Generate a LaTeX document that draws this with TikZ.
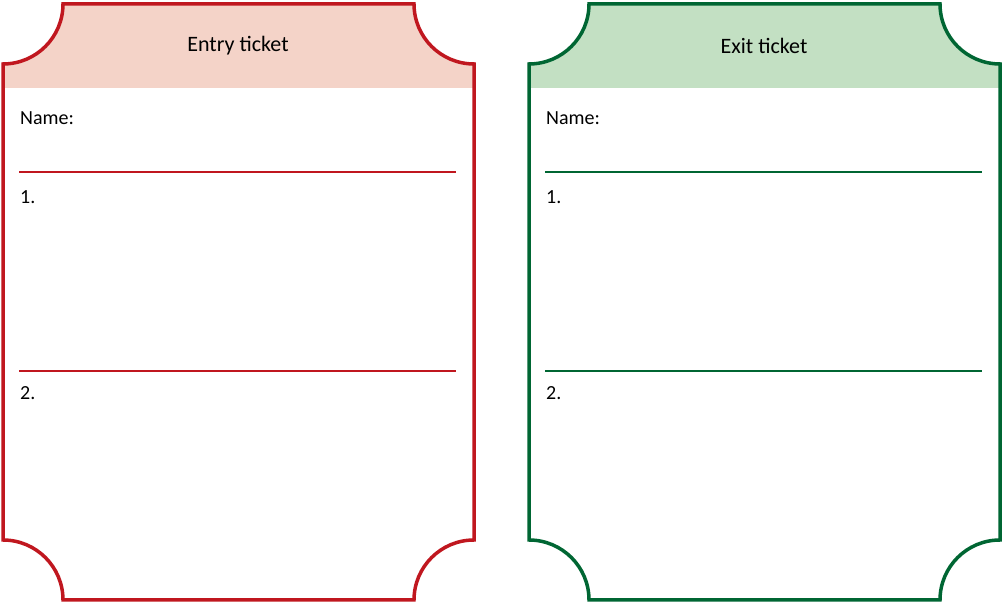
\documentclass[tikz,border=0pt]{standalone}
\usepackage{fontspec}
\setmainfont{Carlito}
\definecolor{entryred}{HTML}{C0171F}
\definecolor{entryfill}{HTML}{F4D3C8}
\definecolor{exitgreen}{HTML}{006633}
\definecolor{exitfill}{HTML}{C3E0C3}
\newcommand{\ticketpath}{(3,540) arc (-90:0:60) -- (414,600) arc (180:270:60)
  -- (474,64) arc (90:180:60) -- (63,4) arc (0:90:60) -- cycle}
\begin{document}
\begin{tikzpicture}[
    x=1pt, y=1pt,
    outline/.style={line width=3.5pt},
    rule/.style={line width=2pt},
    label/.style={anchor=west, inner sep=0pt, font=\fontsize{20}{24}\selectfont},
    title/.style={inner sep=0pt, font=\fontsize{22}{26}\selectfont}
]
    \useasboundingbox (0,0) rectangle (1004,604);
    \foreach \ox/\col/\fil/\ttl/\nm in {0/entryred/entryfill/Entry ticket/entry, 526/exitgreen/exitfill/Exit ticket/exit}{
      \begin{scope}[xshift=\ox pt]
        % header band
        \begin{scope}
          \clip \ticketpath;
          \fill[\fil] (0,516) rectangle (480,604);
        \end{scope}
        \draw[outline, \col] \ticketpath;
        \node[title] (\nm-title) at (238,558) {\ttl};
        % fields
        \node[label] (\nm-name) at (20,486) {Name:};
        \coordinate (\nm-a1) at (19,432);
        \coordinate (\nm-a2) at (456,432);
        \draw[rule, \col] (\nm-a1) -- (\nm-a2);
        \node[label] (\nm-one) at (20,407) {1.};
        \coordinate (\nm-b1) at (19,233);
        \coordinate (\nm-b2) at (456,233);
        \draw[rule, \col] (\nm-b1) -- (\nm-b2);
        \node[label] (\nm-two) at (20,211) {2.};
      \end{scope}
    }
\end{tikzpicture}
\end{document}
